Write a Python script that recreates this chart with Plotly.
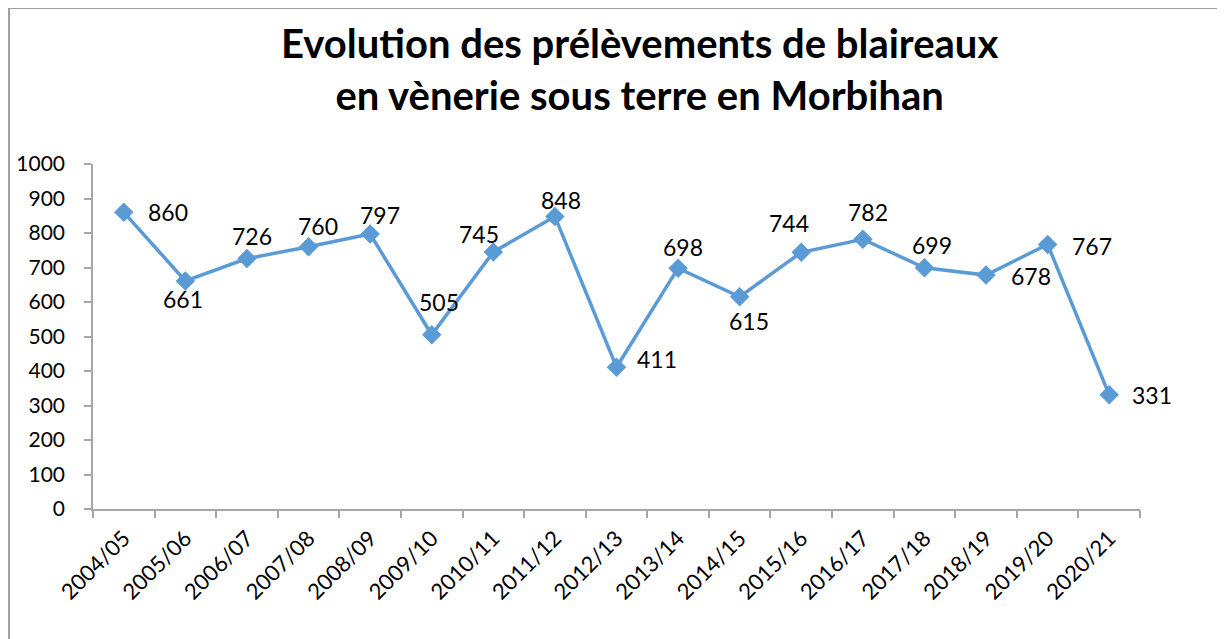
import plotly.graph_objects as go

# ---- data ----
seasons = ["2004/05", "2005/06", "2006/07", "2007/08", "2008/09", "2009/10",
           "2010/11", "2011/12", "2012/13", "2013/14", "2014/15", "2015/16",
           "2016/17", "2017/18", "2018/19", "2019/20", "2020/21"]
prelevements = [860, 661, 726, 760, 797, 505, 745, 848, 411, 698, 615, 744,
                782, 699, 678, 767, 331]
y_ticks = [0, 100, 200, 300, 400, 500, 600, 700, 800, 900, 1000]

# label offsets (px) relative to each marker
label_dx = [44, -2, 5, 9, 10, 7, -14, 6, 40, 5, 9, -12, 5, 8, 45, 44, 43]
label_dy = [0, 18, -23, -21, -19, -33, -18, -16, -8, -21, 24, -29, -27, -23, 1, 2, 0]

# page has an 8px body margin, so figure coords = page coords - 8
W, H = 1217, 631
PL, PR, PT, PB = 85, 1132, 156, 501
FONT = "Lato"
BLUE = "#5B9BD5"
GREY = "#A6A6A6"

fig = go.Figure()
fig.add_trace(go.Scatter(
    x=seasons, y=prelevements, mode="lines+markers",
    line=dict(color=BLUE, width=3.5),
    marker=dict(symbol="diamond", size=15, color=BLUE),
    hoverinfo="x+y", showlegend=False,
))

for s, v, dx, dy in zip(seasons, prelevements, label_dx, label_dy):
    fig.add_annotation(x=s, y=v, text=str(v), showarrow=False,
                       xshift=dx, yshift=-dy,
                       font=dict(family=FONT, size=23, color="#000000"))

pw, ph = PR - PL, PB - PT


def px_x(x):
    return (x - PL) / pw


def px_y(y):
    return (PB - y) / ph


# chart frame (left and top edges visible)
fig.add_shape(type="line", xref="paper", yref="paper", x0=px_x(1), x1=px_x(1),
              y0=px_y(0), y1=px_y(H + 5), line=dict(color="#A0A0A0", width=2))
fig.add_shape(type="line", xref="paper", yref="paper", x0=px_x(0), x1=px_x(W + 5),
              y0=px_y(0), y1=px_y(0), line=dict(color="#A0A0A0", width=2))

# title
fig.add_annotation(xref="paper", yref="paper", x=px_x(631), y=px_y(61),
                   xanchor="center", yanchor="middle", showarrow=False,
                   text="<b>Evolution des prélèvements de blaireaux<br>en vènerie sous terre en Morbihan</b>",
                   font=dict(family=FONT, size=40, color="#000000"))

fig.update_layout(
    width=W, height=H,
    margin=dict(l=PL, r=W - PR, t=PT, b=H - PB, autoexpand=False),
    paper_bgcolor="white", plot_bgcolor="white",
    xaxis=dict(type="category", range=[-0.5, 16.5], tickson="boundaries",
               ticks="outside", ticklen=7, tickcolor=GREY, tickwidth=1.5,
               showline=True, linecolor=GREY, linewidth=1.5,
               showgrid=False, zeroline=False, tickangle=-45,
               ticklabelstandoff=6,
               tickfont=dict(family=FONT, size=22, color="#000000")),
    yaxis=dict(range=[0, 1000], tickvals=y_ticks, ticks="outside", ticklen=7,
               tickcolor=GREY, tickwidth=1.5, showline=True, linecolor=GREY,
               linewidth=1.5, showgrid=False, zeroline=False,
               ticklabelstandoff=15,
               tickfont=dict(family=FONT, size=21, color="#000000")),
)

fig.write_html("out.html")
